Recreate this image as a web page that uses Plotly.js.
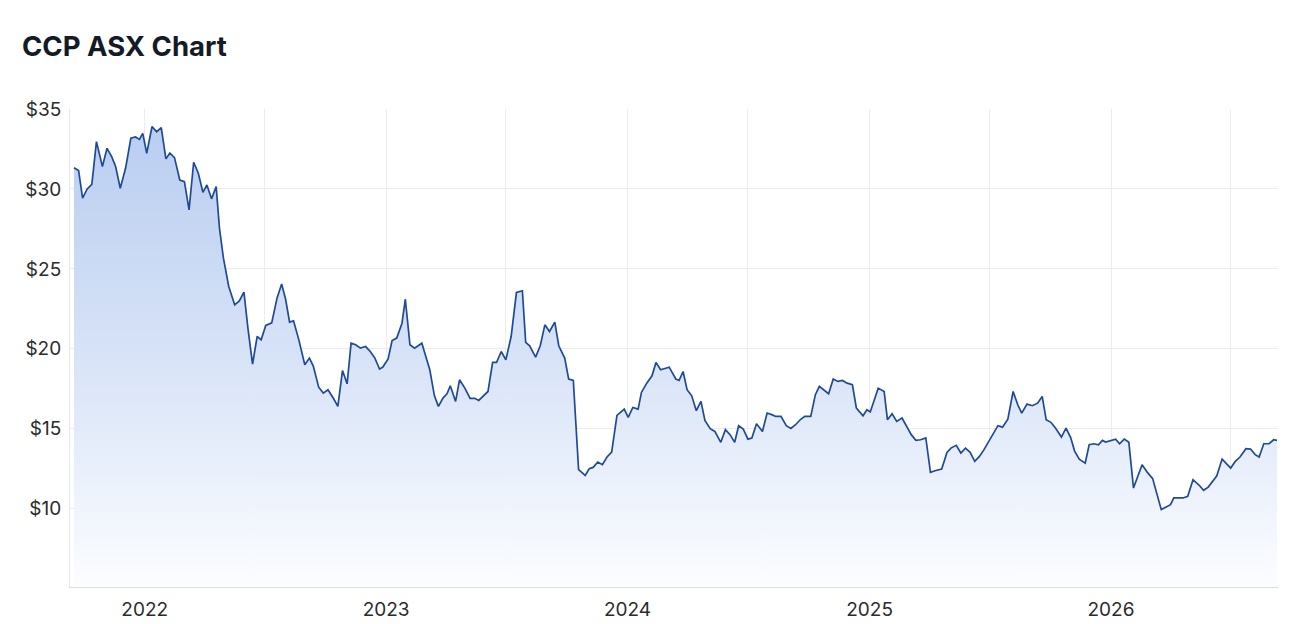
<!DOCTYPE html>
<html>
<head>
<meta charset="utf-8">
<script src="https://cdn.plot.ly/plotly-3.0.1.min.js"></script>
<style>
  html, body { margin: 0; padding: 0; background: #ffffff; }
  #chart { width: 1295px; height: 624px; }
</style>
</head>
<body>
<div id="chart"></div>
<script>
// ---- Data (weekly closes) ----
const dates = [
  "2021-09-16","2021-09-23","2021-09-29","2021-10-06","2021-10-13","2021-10-20","2021-10-29","2021-11-05",
  "2021-11-12","2021-11-18","2021-11-25","2021-12-03","2021-12-11","2021-12-18","2021-12-24","2021-12-29",
  "2022-01-04","2022-01-12","2022-01-19","2022-01-26","2022-02-02","2022-02-08","2022-02-15","2022-02-23",
  "2022-03-02","2022-03-09","2022-03-16","2022-03-23","2022-03-30","2022-04-05","2022-04-12","2022-04-19",
  "2022-04-24","2022-04-30","2022-05-08","2022-05-17","2022-05-24","2022-05-31","2022-06-06","2022-06-13",
  "2022-06-20","2022-06-26","2022-07-03","2022-07-12","2022-07-20","2022-07-27","2022-08-02","2022-08-08",
  "2022-08-14","2022-08-22","2022-08-31","2022-09-07","2022-09-13","2022-09-21","2022-09-28","2022-10-05",
  "2022-10-13","2022-10-20","2022-10-27","2022-11-03","2022-11-09","2022-11-16","2022-11-23","2022-12-01",
  "2022-12-08","2022-12-15","2022-12-22","2022-12-27","2023-01-04","2023-01-10","2023-01-17","2023-01-25",
  "2023-01-30","2023-02-06","2023-02-13","2023-02-19","2023-02-24","2023-03-02","2023-03-08","2023-03-15",
  "2023-03-21","2023-03-28","2023-04-03","2023-04-08","2023-04-16","2023-04-22","2023-04-30","2023-05-08",
  "2023-05-15","2023-05-21","2023-05-28","2023-06-04","2023-06-11","2023-06-17","2023-06-24","2023-07-01",
  "2023-07-09","2023-07-17","2023-07-26","2023-07-31","2023-08-06","2023-08-15","2023-08-22","2023-08-29",
  "2023-09-05","2023-09-13","2023-09-19","2023-09-28","2023-10-04","2023-10-11","2023-10-19","2023-10-29",
  "2023-11-04","2023-11-10","2023-11-17","2023-11-24","2023-12-01","2023-12-08","2023-12-16","2023-12-27",
  "2024-01-02","2024-01-09","2024-01-17","2024-01-22","2024-01-30","2024-02-07","2024-02-13","2024-02-20",
  "2024-03-04","2024-03-14","2024-03-19","2024-03-25","2024-03-31","2024-04-07","2024-04-14","2024-04-21",
  "2024-04-27","2024-05-05","2024-05-12","2024-05-21","2024-05-28","2024-06-04","2024-06-11","2024-06-17",
  "2024-06-24","2024-07-01","2024-07-07","2024-07-14","2024-07-23","2024-07-30","2024-08-06","2024-08-12",
  "2024-08-20","2024-08-28","2024-09-04","2024-09-11","2024-09-18","2024-09-25","2024-10-04","2024-10-11",
  "2024-10-17","2024-10-24","2024-10-31","2024-11-07","2024-11-14","2024-11-21","2024-11-28","2024-12-06",
  "2024-12-12","2024-12-22","2024-12-28","2025-01-02","2025-01-06","2025-01-14","2025-01-23","2025-01-28",
  "2025-02-04","2025-02-11","2025-02-19","2025-02-26","2025-03-05","2025-03-12","2025-03-19","2025-03-27",
  "2025-04-03","2025-04-11","2025-04-20","2025-04-28","2025-05-04","2025-05-12","2025-05-19","2025-05-26",
  "2025-06-02","2025-06-09","2025-06-16","2025-06-23","2025-06-30","2025-07-07","2025-07-14","2025-07-21",
  "2025-07-29","2025-08-06","2025-08-13","2025-08-19","2025-08-27","2025-09-04","2025-09-12","2025-09-19",
  "2025-09-25","2025-10-02","2025-10-09","2025-10-18","2025-10-25","2025-11-01","2025-11-07","2025-11-14",
  "2025-11-23","2025-11-29","2025-12-06","2025-12-13","2025-12-19","2025-12-24","2026-01-01","2026-01-08",
  "2026-01-14","2026-01-21","2026-01-28","2026-02-04","2026-02-17","2026-02-25","2026-03-05","2026-03-18",
  "2026-04-01","2026-04-06","2026-04-20","2026-04-27","2026-05-05","2026-05-14","2026-05-21","2026-05-28",
  "2026-06-10","2026-06-18","2026-07-01","2026-07-08","2026-07-15","2026-07-24","2026-07-31","2026-08-07",
  "2026-08-13","2026-08-20","2026-08-28","2026-09-04","2026-09-09"
];

const prices = [
  31.33,31.15,29.42,30.00,30.29,32.96,31.40,32.54,
  32.02,31.40,30.04,31.29,33.17,33.25,33.10,33.48,
  32.23,33.90,33.58,33.83,31.88,32.25,31.96,30.56,
  30.46,28.69,31.67,30.98,29.79,30.25,29.38,30.15,
  27.54,25.67,23.90,22.75,23.00,23.54,21.29,19.04,
  20.77,20.56,21.46,21.62,23.17,24.06,23.10,21.67,
  21.75,20.56,19.00,19.42,18.90,17.60,17.23,17.44,
  16.92,16.40,18.64,17.81,20.35,20.25,20.04,20.14,
  19.83,19.42,18.73,18.86,19.36,20.52,20.67,21.60,
  23.10,20.25,20.04,20.19,20.35,19.52,18.69,17.06,
  16.40,16.92,17.19,17.69,16.71,18.06,17.54,16.90,
  16.90,16.77,17.06,17.33,19.15,19.15,19.83,19.31,
  20.77,23.52,23.63,20.40,20.19,19.48,20.19,21.50,
  21.08,21.67,20.19,19.42,18.10,18.02,12.44,12.08,
  12.50,12.58,12.92,12.75,13.23,13.54,15.83,16.23,
  15.71,16.33,16.23,17.27,17.85,18.31,19.15,18.69,
  18.85,18.11,18.02,18.58,17.44,17.06,16.13,16.71,
  15.52,15.00,14.83,14.15,14.94,14.63,14.15,15.19,
  14.98,14.35,14.42,15.31,14.83,15.98,15.88,15.77,
  15.77,15.19,15.02,15.25,15.56,15.77,15.77,17.13,
  17.65,17.44,17.19,18.11,17.96,18.02,17.85,17.75,
  16.29,15.81,16.19,16.05,16.60,17.54,17.33,15.56,
  15.94,15.46,15.67,15.14,14.63,14.27,14.31,14.42,
  12.27,12.39,12.48,13.52,13.79,13.96,13.48,13.79,
  13.52,12.96,13.27,13.69,14.21,14.73,15.19,15.10,
  15.60,17.33,16.50,15.98,16.54,16.44,16.60,17.02,
  15.56,15.40,15.04,14.48,15.04,14.45,13.60,13.10,
  12.85,14.00,14.06,14.00,14.27,14.17,14.27,14.35,
  14.06,14.35,14.15,11.29,12.75,12.27,11.88,9.94,
  10.25,10.67,10.67,10.77,11.81,11.48,11.15,11.35,
  12.06,13.10,12.54,12.96,13.23,13.75,13.73,13.38,
  13.23,14.06,14.06,14.31,14.27
];

const chartTitle = "CCP ASX Chart";
const yTickVals = [10, 15, 20, 25, 30, 35];
const yTickText = ["$10", "$15", "$20", "$25", "$30", "$35"];

// ---- Plot ----
const fontFamily = "Inter, 'Helvetica Neue', Arial, sans-serif";

const trace = {
  type: "scatter",
  mode: "lines",
  x: dates,
  y: prices,
  line: { color: "#1f4a98", width: 1.7 },
  fill: "tozeroy",
  fillgradient: {
    type: "vertical",
    start: 5.1,
    stop: 35,
    colorscale: [
      [0, "rgb(252,253,255)"],
      [0.5, "rgb(214,226,247)"],
      [1, "rgb(183,204,240)"]
    ]
  },
  hoverinfo: "x+y"
};

const layout = {
  width: 1295,
  height: 624,
  margin: { l: 70, r: 17, t: 109, b: 37 },
  paper_bgcolor: "#ffffff",
  plot_bgcolor: "#ffffff",
  showlegend: false,
  font: { family: fontFamily, color: "#2b2b2b", size: 19 },
  title: {
    text: "<b>" + chartTitle + "</b>",
    font: { family: fontFamily, size: 27.5, color: "#151b26" },
    xref: "container", yref: "container",
    x: 22 / 1295, xanchor: "left",
    y: 1 - 46 / 624, yanchor: "middle"
  },
  xaxis: {
    type: "date",
    range: ["2021-09-10", "2026-09-10 12:00"],
    tick0: "2022-01-01",
    dtick: "M12",
    tickformat: "%Y",
    ticks: "",
    showgrid: true,
    gridcolor: "#ececef",
    gridwidth: 1,
    minor: { tick0: "2022-01-01", dtick: "M6", showgrid: true, gridcolor: "#ececef", gridwidth: 1, ticks: "" },
    showline: true,
    linecolor: "#dcdce0",
    linewidth: 1,
    zeroline: false,
    ticklabelstandoff: 5,
    tickfont: { family: fontFamily, size: 19, color: "#2b2b2b" },
    fixedrange: true
  },
  yaxis: {
    range: [5.1, 35],
    tickvals: yTickVals,
    ticktext: yTickText,
    ticks: "",
    showgrid: true,
    gridcolor: "#ececef",
    gridwidth: 1,
    showline: true,
    linecolor: "#e6e6ea",
    linewidth: 1,
    zeroline: false,
    ticklabelstandoff: 4,
    tickfont: { family: fontFamily, size: 19, color: "#2b2b2b" },
    fixedrange: true
  }
};

Plotly.newPlot("chart", [trace], layout, { displayModeBar: false, staticPlot: true });
</script>
</body>
</html>
